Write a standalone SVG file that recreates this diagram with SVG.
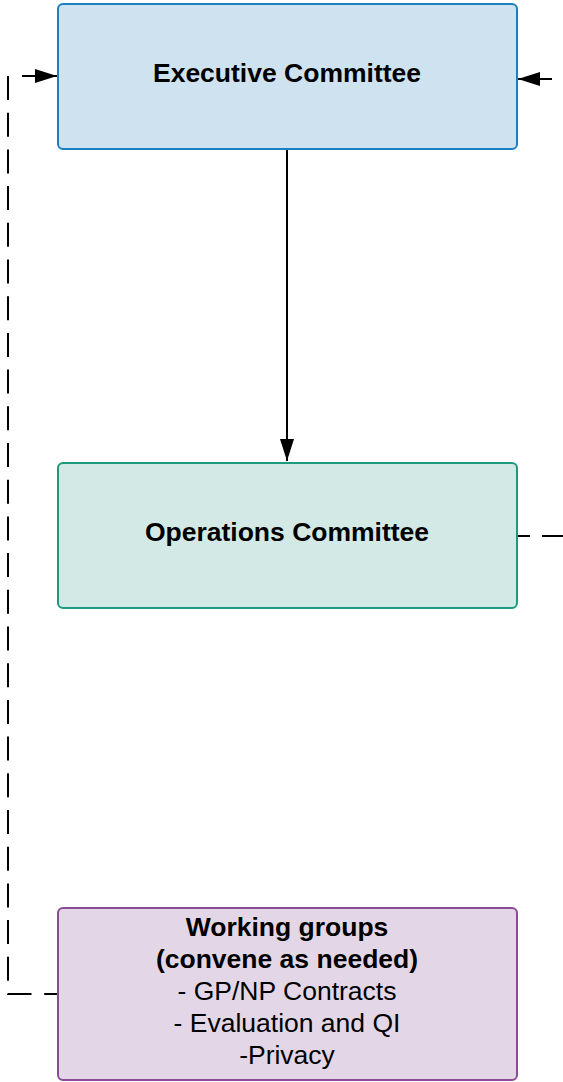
<svg xmlns="http://www.w3.org/2000/svg" width="563" height="1082" viewBox="0 0 563 1082">
<style>
.box{stroke-width:2}
.t{font-family:"Liberation Sans",Arial,sans-serif;font-size:26.5px;text-anchor:middle;fill:#000}
.b{font-weight:bold}
.c{fill:none;stroke:#000;stroke-width:2}
.d{stroke-dasharray:24,12.7}
</style>
<defs>
<marker id="ah" viewBox="0 0 22 14" refX="22" refY="7" markerWidth="22" markerHeight="14" markerUnits="userSpaceOnUse" orient="auto">
<path d="M0,0 L22,7 L0,14 Z" fill="#000"/>
</marker>
</defs>
<g id="connectors">
<path class="c" d="M287,149 L287,461" marker-end="url(#ah)"/>
<path class="c d" d="M8,76 L8,994 L57,994"/>
<path class="c" d="M22,76 L57,76" marker-end="url(#ah)"/>
<path class="c" d="M518,536 L530,536 M542,536 L563,536"/>
<path class="c" d="M552,79 L518,79" marker-end="url(#ah)"/>
</g>
<g id="exec">
<rect class="box" x="58" y="4" width="459" height="145" rx="5" fill="#cfe2ef" stroke="#1a80c3"/>
<text class="t b" x="287" y="82">Executive Committee</text>
</g>
<g id="ops">
<rect class="box" x="58" y="463" width="459" height="145" rx="5" fill="#d2e9e5" stroke="#1c9a80"/>
<text class="t b" x="287" y="541">Operations Committee</text>
</g>
<g id="work">
<rect class="box" x="58" y="908" width="459" height="172" rx="5" fill="#e3d7e7" stroke="#8b4a97"/>
<text class="t b" x="287" y="936">Working groups</text>
<text class="t b" x="287" y="968">(convene as needed)</text>
<text class="t" x="287" y="1000">- GP/NP Contracts</text>
<text class="t" x="287" y="1032">- Evaluation and QI</text>
<text class="t" x="287" y="1064">-Privacy</text>
</g>
</svg>
